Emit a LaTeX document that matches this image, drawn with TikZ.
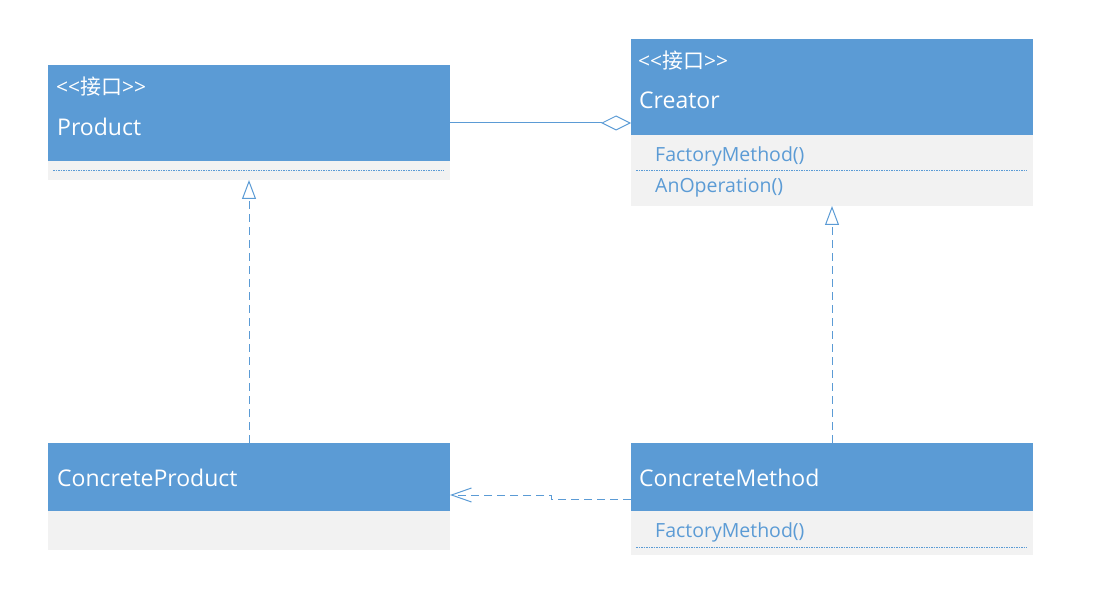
\documentclass[tikz,border=0pt]{standalone}
\usepackage{fontspec}
\setmainfont{Open Sans}
\newfontfamily\cjk{Noto Sans CJK SC}
\usetikzlibrary{arrows.meta}
\definecolor{umlblue}{HTML}{5B9BD5}
\definecolor{umlgrey}{HTML}{F2F2F2}
\tikzset{
  head/.style={rectangle, fill=umlblue, draw=none, anchor=north west, minimum width=402pt, inner sep=0pt, outer sep=0pt},
  body/.style={rectangle, fill=umlgrey, draw=none, anchor=north west, minimum width=402pt, inner sep=0pt, outer sep=0pt},
  title/.style={anchor=base west, text=white, font=\fontsize{23}{26}\selectfont, inner sep=0pt},
  stereo/.style={anchor=base west, text=white, font=\fontsize{21}{24}\selectfont, inner sep=0pt},
  meth/.style={anchor=base west, text=umlblue, font=\fontsize{19.5}{22}\selectfont, inner sep=0pt},
  sep/.style={draw=umlblue, line width=0.9pt, dash pattern=on 1.5pt off 1pt},
  conn/.style={draw=umlblue, line width=1pt},
  real/.style={conn, dash pattern=on 8pt off 5pt, -{Triangle[open, length=19pt, width=14pt, line width=1pt]}},
  aggr/.style={conn, -{Diamond[open, length=30pt, width=15pt, line width=1pt]}},
  dep/.style={conn, dash pattern=on 8pt off 5pt, -{Straight Barb[length=20pt, width=14pt, line width=1pt]}}
}
\begin{document}
\begin{tikzpicture}[x=1pt, y=-1pt]
\useasboundingbox (0,0) rectangle (1095,593);
% Product
\node[head, minimum height=96pt] (prodH) at (48,65) {};
\node[body, minimum height=19pt] (prodB) at (48,161) {};
\node[stereo] (prodS) at (56,95) {{<}{<}{\cjk 接口}{>}{>}};
\node[title] (prodT) at (57,136) {Product};
\draw[sep] ([xshift=5pt, yshift=-9pt]prodB.north west) -- ([xshift=-6pt, yshift=-9pt]prodB.north east);
% Creator
\node[head, minimum height=96pt] (creH) at (631,39) {};
\node[body, minimum height=71pt] (creB) at (631,135) {};
\node[stereo] (creS) at (638,69) {{<}{<}{\cjk 接口}{>}{>}};
\node[title] (creT) at (639,109) {Creator};
\node[meth] (creM1) at (655,162) {FactoryMethod()};
\draw[sep] ([xshift=5pt, yshift=-35pt]creB.north west) -- ([xshift=-6pt, yshift=-35pt]creB.north east);
\node[meth] (creM2) at (655,193) {AnOperation()};
% ConcreteProduct
\node[head, minimum height=68pt] (cpH) at (48,443) {};
\node[body, minimum height=39pt] (cpB) at (48,511) {};
\node[title] (cpT) at (57,486) {ConcreteProduct};
% ConcreteMethod
\node[head, minimum height=68pt] (cmH) at (631,443) {};
\node[body, minimum height=44pt] (cmB) at (631,511) {};
\node[title] (cmT) at (639,486) {ConcreteMethod};
\node[meth] (cmM1) at (655,537) {FactoryMethod()};
\draw[sep] ([xshift=5pt, yshift=-36pt]cmB.north west) -- ([xshift=-6pt, yshift=-36pt]cmB.north east);
% connectors
\draw[aggr] ([yshift=-10pt]prodH.east) -- ([yshift=-36pt]creH.west);
\draw[real] (cpH.north) -- (prodB.south);
\draw[real] (cmH.north) -- (creB.south);
\draw[dep] ([yshift=-22pt]cmH.west) -- ++(-80,0) -- ++(0,-4) -- ([yshift=-18pt]cpH.east);
\end{tikzpicture}
\end{document}
